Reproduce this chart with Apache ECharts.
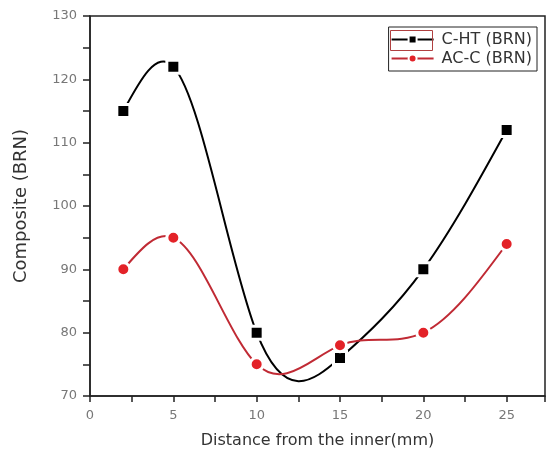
<!DOCTYPE html>
<html><head><meta charset="utf-8">
<script src="https://cdn.jsdelivr.net/npm/echarts@6/dist/echarts.min.js"></script>
<style>html,body{margin:0;padding:0;background:#fff}#c{width:550px;height:456px}</style>
</head><body><div id="c"></div>
<script>
const distances = [2, 5, 10, 15, 20, 25];
const chtValues = [115, 122, 80, 76, 90, 112];
const accValues = [90, 95, 75, 78, 80, 94];
const seriesNames = ['C-HT (BRN)', 'AC-C (BRN)'];
const xTitle = 'Distance from the inner(mm)';
const yTitle = 'Composite (BRN)';

// natural cubic spline knot derivatives (Origin-style spline connection)
function splineSlopes(xs, ys) {
  const n = xs.length, h = [], s = [];
  for (let i = 0; i < n - 1; i++) { h.push(xs[i+1]-xs[i]); s.push((ys[i+1]-ys[i])/h[i]); }
  const M = new Array(n).fill(0);
  const a = [], b = [], c = [], d = [];
  for (let i = 1; i < n - 1; i++) {
    a.push(h[i-1]); b.push(2*(h[i-1]+h[i])); c.push(h[i]); d.push(6*(s[i]-s[i-1]));
  }
  const m = b.length;
  for (let i = 1; i < m; i++) { const w = a[i]/b[i-1]; b[i] -= w*c[i-1]; d[i] -= w*d[i-1]; }
  const sol = new Array(m);
  sol[m-1] = d[m-1]/b[m-1];
  for (let i = m-2; i >= 0; i--) sol[i] = (d[i]-c[i]*sol[i+1])/b[i];
  for (let i = 0; i < m; i++) M[i+1] = sol[i];
  const segs = [];
  for (let i = 0; i < n - 1; i++) {
    segs.push({h: h[i], dl: s[i] - h[i]*(2*M[i]+M[i+1])/6, dr: s[i] + h[i]*(M[i]+2*M[i+1])/6});
  }
  return segs;
}

const chart = echarts.init(document.getElementById('c'));
const pair = (xs, ys) => xs.map((x, i) => [x, ys[i]]);
const font = '"DejaVu Sans", Arial, sans-serif';

function curveSeries(xs, ys, color) {
  const segs = splineSlopes(xs, ys);
  return {
    type: 'custom', name: 'curve', silent: true, z: 1,
    data: pair(xs, ys), encode: {x: 0, y: 1},
    renderItem: (params, api) => {
      const i = params.dataIndex;
      if (i >= xs.length - 1) return null;
      const sg = segs[i];
      const p0 = api.coord([xs[i], ys[i]]);
      const p1 = api.coord([xs[i+1], ys[i+1]]);
      const c1 = api.coord([xs[i] + sg.h/3, ys[i] + sg.dl*sg.h/3]);
      const c2 = api.coord([xs[i+1] - sg.h/3, ys[i+1] - sg.dr*sg.h/3]);
      return {type: 'bezierCurve',
        shape: {x1: p0[0], y1: p0[1], x2: p1[0], y2: p1[1], cpx1: c1[0], cpy1: c1[1], cpx2: c2[0], cpy2: c2[1]},
        style: {stroke: color, lineWidth: 2, fill: null}};
    }
  };
}

chart.setOption({
  animation: false,
  backgroundColor: '#fff',
  grid: {left: 90, top: 16, right: 5, bottom: 60, show: true, borderColor: '#222', borderWidth: 1.5},
  legend: {
    right: 13, top: 27, orient: 'vertical', itemGap: 0, itemWidth: 42, itemHeight: 10,
    borderColor: '#222', borderWidth: 1, borderRadius: 0, padding: [3, 5, 3, 2], backgroundColor: '#fff',
    textStyle: {fontFamily: font, fontSize: 16, color: '#333', padding: [0,0,0,3], lineHeight: 19},
    data: [
      {name: seriesNames[0], lineStyle: {opacity: 1, width: 2, color: '#000'}},
      {name: seriesNames[1], lineStyle: {opacity: 1, width: 2, color: '#c02a34'}}
    ]
  },
  graphic: [{type: 'rect', left: 388, top: 28, shape: {width: 42, height: 20},
    style: {fill: null, stroke: '#b04040', lineWidth: 1}, z: 100}],
  xAxis: {
    type: 'value', min: 0, max: 27.3, interval: 5,
    name: xTitle, nameLocation: 'middle', nameGap: 37,
    nameTextStyle: {fontFamily: font, fontSize: 16, color: '#333'},
    axisLine: {lineStyle: {color: '#222', width: 1.5}},
    axisTick: {show: true, length: 6, lineStyle: {color: '#222', width: 1.5}},
    minorTick: {show: true, splitNumber: 2, length: 6, lineStyle: {color: '#222', width: 1.5}},
    axisLabel: {fontFamily: font, fontSize: 13, color: '#777', margin: 13, showMaxLabel: false,
      formatter: v => (v % 5 === 0 ? String(v) : '')},
    splitLine: {show: false}
  },
  yAxis: {
    type: 'value', min: 70, max: 130, interval: 10,
    name: yTitle, nameLocation: 'middle', nameGap: 60, nameRotate: 90,
    nameTextStyle: {fontFamily: font, fontSize: 18, color: '#333'},
    axisLine: {show: true, lineStyle: {color: '#222', width: 1.5}},
    axisTick: {show: true, length: 7, lineStyle: {color: '#222', width: 1.5}},
    minorTick: {show: true, splitNumber: 2, length: 7, lineStyle: {color: '#222', width: 1.5}},
    axisLabel: {fontFamily: font, fontSize: 13, color: '#777', margin: 13},
    splitLine: {show: false}
  },
  series: [
    curveSeries(distances, chtValues, '#000'),
    curveSeries(distances, accValues, '#c02a34'),
    {name: seriesNames[0], type: 'line', data: pair(distances, chtValues), z: 3,
     symbol: 'rect', symbolSize: 13, color: '#000',
     lineStyle: {opacity: 0}, itemStyle: {color: '#000', borderColor: '#fff', borderWidth: 3}},
    {name: seriesNames[1], type: 'line', data: pair(distances, accValues), z: 3,
     symbol: 'circle', symbolSize: 13, color: '#e32228',
     lineStyle: {opacity: 0}, itemStyle: {color: '#e32228', borderColor: '#fff', borderWidth: 3}}
  ]
});
</script></body></html>
